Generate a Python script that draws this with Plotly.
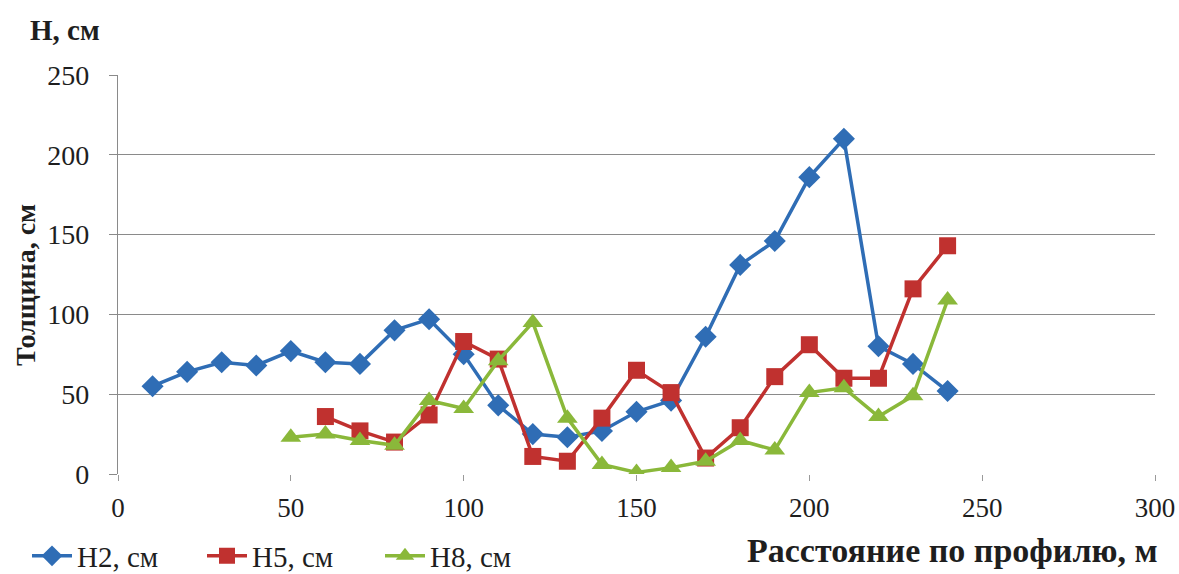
import plotly.graph_objects as go

x_h2 = [10, 20, 30, 40, 50, 60, 70, 80, 90, 100, 110, 120, 130, 140, 150, 160, 170, 180, 190, 200, 210, 220, 230, 240]
h2 = [55, 64, 70, 68, 77, 70, 69, 90, 97, 75, 43, 25, 23, 27, 39, 46, 86, 131, 146, 186, 210, 80, 69, 52]

x_h5 = [60, 70, 80, 90, 100, 110, 120, 130, 140, 150, 160, 170, 180, 190, 200, 210, 220, 230, 240]
h5 = [36, 27, 20, 37, 83, 72, 11, 8, 35, 65, 51, 10, 29, 61, 81, 60, 60, 116, 143]

x_h8 = [50, 60, 70, 80, 90, 100, 110, 120, 130, 140, 150, 160, 170, 180, 190, 200, 210, 220, 230, 240]
h8 = [23, 25, 21, 18, 46, 41, 71, 95, 35, 6, 1, 4, 8, 21, 15, 51, 54, 36, 49, 109]

names = ["H2, см", "H5, см", "H8, см"]
colors = ["#2F6DB5", "#C0312F", "#8AB83A"]
symbols = ["diamond", "square", "triangle-up"]
legends = ["legend", "legend2", "legend3"]

FONT = "Liberation Serif"
TXT = "#1e1e1e"

fig = go.Figure()
for xs, ys, nm, c, s, sz, lg in zip([x_h2, x_h5, x_h8], [h2, h5, h8], names, colors, symbols, [17, 17, 18], legends):
    fig.add_trace(go.Scatter(
        x=xs, y=ys, name=nm, mode="lines+markers", legend=lg,
        line=dict(color=c, width=3.5),
        marker=dict(symbol=s, size=sz, color=c),
    ))

def leg(xpx):
    return dict(orientation="h", xref="container", yref="container",
                x=xpx / 1179, y=1 - 556 / 574, xanchor="left", yanchor="middle",
                font=dict(family=FONT, size=29, color=TXT),
                itemwidth=40, bgcolor="rgba(0,0,0,0)")

fig.update_layout(
    width=1179, height=574,
    margin=dict(l=118, r=24, t=75, b=100),
    paper_bgcolor="white", plot_bgcolor="white",
    font=dict(family=FONT, size=28, color=TXT),
    showlegend=True,
    legend=leg(27), legend2=leg(202), legend3=leg(380),
    xaxis=dict(range=[0, 300], tickvals=[0, 50, 100, 150, 200, 250, 300],
               showgrid=False, zeroline=False, showline=False, automargin=False,
               ticks="outside", ticklen=6, tickcolor="#9a9a9a", ticklabelstandoff=4,
               tickfont=dict(family=FONT, size=27, color=TXT)),
    yaxis=dict(range=[0, 250], tickvals=[0, 50, 100, 150, 200, 250],
               showgrid=True, gridcolor="#8a8a8a", gridwidth=1.3, automargin=False,
               zeroline=False, showline=True, linecolor="#8a8a8a", linewidth=1.3,
               ticks="outside", ticklen=8, tickcolor="#8a8a8a", ticklabelstandoff=14,
               tickfont=dict(family=FONT, size=28, color=TXT)),
    annotations=[
        dict(text="<b>H, см</b>", xref="paper", yref="paper", x=(28 - 118) / 1037, y=(474 - 30) / 399,
             xanchor="left", yanchor="middle", showarrow=False,
             font=dict(family=FONT, size=29, color=TXT)),
        dict(text="<b>Толщина, см</b>", xref="paper", yref="paper", x=(25 - 118) / 1037, y=(474 - 285) / 399,
             xanchor="center", yanchor="middle", textangle=-90, showarrow=False,
             font=dict(family=FONT, size=28, color=TXT)),
        dict(text="<b>Расстояние по профилю, м</b>", xref="paper", yref="paper", x=(1160 - 118) / 1037,
             y=(474 - 550) / 399,
             xanchor="right", yanchor="middle", showarrow=False,
             font=dict(family=FONT, size=34, color=TXT)),
    ],
)

fig.write_html("out.html", config={"displayModeBar": False},
               post_script="document.body.style.margin='0';document.body.style.padding='0';")
